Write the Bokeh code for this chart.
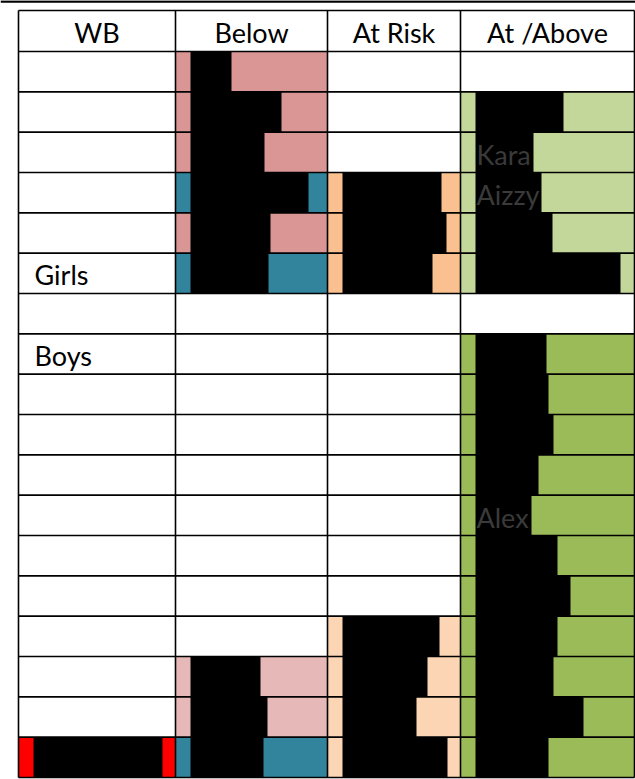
from bokeh.plotting import figure
from bokeh.models import ColumnDataSource, Range1d
from bokeh.core.properties import value
from bokeh.embed import file_html
from bokeh.resources import INLINE

# ---------------- data ----------------
columns = ["WB", "Below", "At Risk", "At /Above"]

row_labels = ["", "", "", "", "", "Girls", "", "Boys", "", "",
              "", "", "", "", "", "", "", ""]

names_above = ["", "", "Kara", "Aizzy", "", "", "", "", "", "",
               "", "Alex", "", "", "", "", "", ""]

# colour band of each cell (None = empty cell)
wb_band = [None] * 17 + ["red"]
below_band = ["pink", "pink", "pink", "teal", "pink", "teal"] + [None] * 9 + ["lpink", "lpink", "teal"]
risk_band = [None] * 3 + ["peach", "peach", "peach"] + [None] * 8 + ["lpeach"] * 4
above_band = [None] + ["lgreen"] * 5 + [None] + ["green"] * 11

# where the black redaction block ends, measured from the cell's left edge
wb_mark = [None] * 17 + [144]
below_mark = [56, 106, 89, 133, 95, 93] + [None] * 9 + [85, 92, 88]
risk_mark = [None] * 3 + [114, 119, 105] + [None] * 8 + [112, 100, 89, 120]
above_mark = [None, 103, 73, 81, 92, 160, None,
              86, 88, 93, 78, 71, 97, 110, 97, 93, 123, 88]

# ---------------- styles / layout ----------------
palette = {
    "red": "#FF0000",
    "pink": "#DA9694",
    "teal": "#31849B",
    "lpink": "#E6B8B7",
    "peach": "#FAC090",
    "lpeach": "#FCD5B4",
    "lgreen": "#C4D79B",
    "green": "#9BBB59",
}
col_edges = [18, 175, 327, 460, 634]
table_top = 10
header_bottom = 51
row_h = (777 - header_bottom) / 18.0
strip = 15
FONT = "Lato"
TXT_SHIFT = 19  # baseline distance above a row's bottom line

bands = [wb_band, below_band, risk_band, above_band]
marks = [wb_mark, below_mark, risk_mark, above_mark]

fill = dict(left=[], right=[], top=[], bottom=[], color=[])
black = dict(left=[], right=[], top=[], bottom=[])
for c, (band, mark) in enumerate(zip(bands, marks)):
    l, r = col_edges[c], col_edges[c + 1]
    for i, (b, m) in enumerate(zip(band, mark)):
        t = header_bottom + i * row_h
        bt = t + row_h
        if b is not None:
            fill["left"].append(l); fill["right"].append(r)
            fill["top"].append(t); fill["bottom"].append(bt)
            fill["color"].append(palette[b])
        if m is not None:
            black["left"].append(l + strip); black["right"].append(l + m)
            black["top"].append(t); black["bottom"].append(bt)

p = figure(width=635, height=779, x_range=Range1d(0, 635), y_range=Range1d(779, 0),
           output_backend="svg", toolbar_location=None, min_border=0)
p.xaxis.visible = False
p.yaxis.visible = False
p.grid.visible = False
p.outline_line_color = None
p.background_fill_color = "white"

p.quad(source=ColumnDataSource(fill), left="left", right="right", top="top", bottom="bottom",
       fill_color="color", line_color=None)
p.quad(source=ColumnDataSource(black), left="left", right="right", top="top", bottom="bottom",
       fill_color="black", line_color=None)

# names peeking through the redaction
nx, ny, nt = [], [], []
for i, n in enumerate(names_above):
    if n:
        nx.append(col_edges[3] + 16)
        ny.append(header_bottom + (i + 1) * row_h - TXT_SHIFT + 1)
        nt.append(n)
p.text(x=nx, y=ny, text=nt, text_font=value(FONT), text_font_size=value("27px"),
       text_color="#3a3a3a", text_baseline="alphabetic", text_align="left")

# top rule and grid lines
p.segment(x0=[0], x1=[635], y0=[1], y1=[1], line_color="black", line_width=2.5)
hy = [table_top, header_bottom] + [header_bottom + k * row_h for k in range(1, 19)]
p.segment(x0=[col_edges[0]] * len(hy), x1=[col_edges[-1]] * len(hy), y0=hy, y1=hy,
          line_color="black", line_width=1.6)
p.segment(x0=col_edges, x1=col_edges, y0=[table_top] * len(col_edges),
          y1=[header_bottom + 18 * row_h] * len(col_edges), line_color="black", line_width=1.6)

# header texts
hx = [(col_edges[k] + col_edges[k + 1]) / 2 for k in range(4)]
p.text(x=hx, y=[header_bottom - TXT_SHIFT] * 4, text=columns, text_font=value(FONT),
       text_font_size=value("27px"), text_color="black", text_align="center",
       text_baseline="alphabetic")

# row labels in the WB column
lx, ly, lt = [], [], []
for i, lab in enumerate(row_labels):
    if lab:
        lx.append(col_edges[0] + 16)
        ly.append(header_bottom + (i + 1) * row_h - TXT_SHIFT)
        lt.append(lab)
p.text(x=lx, y=ly, text=lt, text_font=value(FONT), text_font_size=value("27px"),
       text_color="black", text_align="left", text_baseline="alphabetic")

open("out.html", "w").write(file_html(p, INLINE))
